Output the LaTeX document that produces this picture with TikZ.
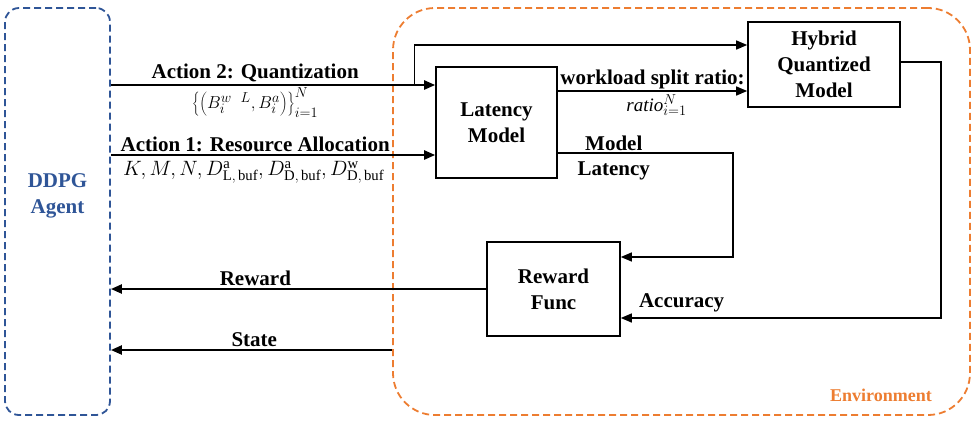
\documentclass[tikz,border=0pt]{standalone}
\usepackage{fontspec}
\setmainfont{Liberation Serif}
\usepackage{tikz}
\usetikzlibrary{
  arrows.meta,
  positioning,
  calc
}
\definecolor{AgentBlue}{HTML}{2F5597}
\definecolor{EnvOrange}{HTML}{ED7D31}

\begin{document}
\begin{tikzpicture}[x=1pt,y=-1pt,
    frame/.style={dash pattern=on 7pt off 4pt,line width=1.8pt},
    blk/.style={draw,line width=1.6pt,align=center,font=\fontsize{21}{26}\selectfont\bfseries},
    lbl/.style={font=\fontsize{21}{26}\selectfont\bfseries,inner sep=2pt},
    mth/.style={font=\fontsize{19}{22}\selectfont,inner sep=1pt},
    arr/.style={line width=1.4pt,-{Triangle[length=11pt,width=9pt]}},
    bigarr/.style={line width=2.2pt,-{Triangle[length=11pt,width=9pt]}}]
  \useasboundingbox (0,0) rectangle (979,424);

  % the two dashed frames
  \node[draw=AgentBlue,frame,rounded corners=14pt,
        minimum width=105pt,minimum height=407pt] (agent) at (57.5,211.5) {};
  \node[draw=EnvOrange,frame,rounded corners=42pt,
        minimum width=577pt,minimum height=407pt] (env) at (681.5,211.5) {};
  \node[lbl,text=AgentBlue,align=center] at ([yshift=16pt]agent.center) {DDPG\\Agent};
  \node[lbl,text=EnvOrange,font=\fontsize{18}{20}\selectfont\bfseries]
    at ([xshift=-90pt,yshift=21pt]env.south east) {Environment};

  % blocks
  \node[blk,minimum width=121pt,minimum height=111pt] (latency) at (496.5,122.5) {Latency\\Model};
  \node[blk,minimum width=152pt,minimum height=85pt] (hybrid) at (824,64.5) {Hybrid\\Quantized\\Model};
  \node[blk,minimum width=133pt,minimum height=94pt] (reward) at (553.5,289) {Reward\\Func};

  % actions from the agent
  \draw[bigarr] ([yshift=37.5pt]latency.west -| agent.east) --
    node[lbl,above,pos=0.445] {Action 2: Quantization}
    node[mth,below=1pt,pos=0.445] {$\left\{\left(B_i^{w\ \ L},B_i^{a}\right)\right\}_{i=1}^{N}$}
    ([yshift=37.5pt]latency.west);
  \coordinate (fork) at ([xshift=-21pt,yshift=37.5pt]latency.west);
  \draw[arr] (fork) |- ([yshift=19.5pt]hybrid.west);
  \draw[bigarr] ([yshift=-32.5pt]latency.west -| agent.east) --
    node[lbl,above,pos=0.445] {Action 1: Resource Allocation}
    node[mth,below=4pt,pos=0.44,font=\fontsize{21}{24}\selectfont]
      {$K,M,N,D^{\mathrm{a}}_{\mathrm{L,\,buf}},D^{\mathrm{a}}_{\mathrm{D,\,buf}},D^{\mathrm{w}}_{\mathrm{D,\,buf}}$}
    ([yshift=-32.5pt]latency.west);

  % inside the environment
  \draw[arr] ([yshift=31.5pt]latency.east) --
    node[lbl,above,inner sep=1pt] {workload split ratio:}
    node[mth,below=2pt,xshift=4pt] {$\mathit{ratio}_{i=1}^{N}$}
    ([yshift=31.5pt]latency.east -| hybrid.west);
  \draw[arr] ([yshift=-30.5pt]latency.east) -|
    node[lbl,above,pos=0.16] {Model}
    node[lbl,below=6pt,pos=0.16] {Latency}
    ([xshift=112pt,yshift=32pt]reward.east) -- ([yshift=32pt]reward.east);
  \draw[arr] ([yshift=2.5pt]hybrid.east) -| ([xshift=320pt,yshift=-29pt]reward.east) --
    node[lbl,above=3pt,pos=0.81] {Accuracy}
    ([yshift=-29pt]reward.east);

  % back to the agent
  \draw[bigarr] (reward.west) --
    node[lbl,above,pos=0.615] {Reward}
    (reward.west -| agent.east);
  \draw[bigarr] ([yshift=-138.5pt]env.west) --
    node[lbl,above,pos=0.49] {State}
    ([yshift=-138.5pt]env.west -| agent.east);
\end{tikzpicture}
\end{document}
